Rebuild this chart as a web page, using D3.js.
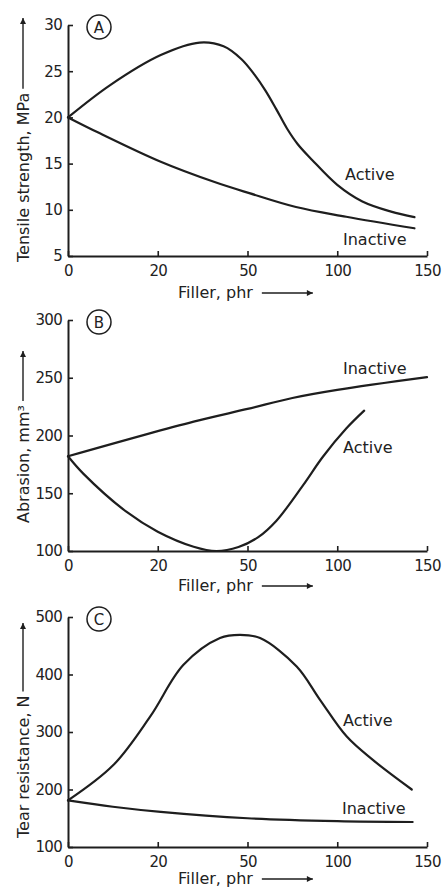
<!DOCTYPE html>
<html>
<head>
<meta charset="utf-8">
<script src="https://cdn.jsdelivr.net/npm/d3@7"></script>
<style>
  html, body { margin: 0; padding: 0; background: #fff; }
  svg { display: block; }
  text { font-family: "DejaVu Sans", sans-serif; fill: #222; }
</style>
</head>
<body>
<svg id="chart" width="445" height="889"></svg>
<script>
// ---------- data ----------
const xTicks = [0, 20, 50, 100, 150];
const xLabel = "Filler, phr";

const yTicksA = [5, 10, 15, 20, 25, 30];
const yLabelA = "Tensile strength, MPa";
const activeA = [[0,20],[9.4,23.5],[21,26.75],[34,28.1],[42,27.7],[48,26.3],[54,24.6],[60,22.9],[66,20.9],[72,18.8],[78,17.1],[86,15.4],[100,12.7],[114,10.9],[130,9.8],[143,9.2]];
const inactiveA = [[0,20],[7,18.3],[21,15.2],[39,13.0],[51,11.8],[77,10.3],[105,9.25],[143,8.0]];

const yTicksB = [100, 150, 200, 250, 300];
const yLabelB = "Abrasion, mm\u00B3";
const activeB = [[0,182],[3.4,167],[13,134],[20,116.7],[32,103.7],[39.6,100],[47,103.5],[56,112],[66,126],[81,157],[92,181.6],[105,206],[115,221.5]];
const inactiveB = [[0,182],[32,212],[50,223],[75,232.5],[100,239.5],[150,250.5]];

const yTicksC = [100, 200, 300, 400, 500];
const yLabelC = "Tear resistance, N";
const activeC = [[0,181],[10.1,242.5],[18.3,326.7],[28.6,416.8],[40.8,463.4],[47.5,469],[57,463.4],[77.4,414],[90.4,356],[105.3,292],[120,251],[141.5,200]];
const inactiveC = [[0,181],[10,170],[21,161],[50,150],[100,145],[142,143.5]];

const panels = [
  {letter:"A", ticks:yTicksA, label:yLabelA, active:activeA, inactive:inactiveA,
   top:25, bottom:256, titleBottom:262, arrowTip:18, xTitleOff:42,
   activePos:[345,180], inactivePos:[343,245]},
  {letter:"B", ticks:yTicksB, label:yLabelB, active:activeB, inactive:inactiveB,
   top:320, bottom:551, titleBottom:523, arrowTip:351, xTitleOff:40,
   activePos:[343,453], inactivePos:[343,374]},
  {letter:"C", ticks:yTicksC, label:yLabelC, active:activeC, inactive:inactiveC,
   top:617, bottom:847, titleBottom:838, arrowTip:623, xTitleOff:37,
   activePos:[343,726], inactivePos:[342,814]}
];

// ---------- drawing ----------
const svg = d3.select("#chart");
const ink = "#1e1e1e";
const x0 = 68, x1 = 427;

svg.append("defs").append("marker")
  .attr("id","arrow").attr("viewBox","0 0 10 10").attr("refX",10).attr("refY",5)
  .attr("markerWidth",9).attr("markerHeight",6).attr("markerUnits","userSpaceOnUse")
  .attr("orient","auto")
  .append("path").attr("d","M0,0 L10,5 L0,10 Z").attr("fill",ink);

const x = d3.scaleLinear()
  .domain(xTicks)
  .range(xTicks.map((d,i) => x0 + (x1 - x0) * i / (xTicks.length - 1)));

panels.forEach(p => {
  const y = d3.scaleLinear()
    .domain([p.ticks[0], p.ticks[p.ticks.length-1]])
    .range([p.bottom, p.top]);

  const g = svg.append("g");

  const xa = g.append("g").attr("transform", `translate(0,${p.bottom})`)
    .call(d3.axisBottom(x).tickValues(xTicks).tickSizeInner(-5).tickSizeOuter(0).tickPadding(8));
  const ya = g.append("g").attr("transform", `translate(${x0},0)`)
    .call(d3.axisLeft(y).tickValues(p.ticks).tickSizeInner(-5).tickSizeOuter(0).tickPadding(6));

  [xa, ya].forEach(a => {
    a.select(".domain").attr("stroke", ink).attr("stroke-width", 2);
    a.selectAll(".tick line").attr("stroke", ink).attr("stroke-width", 1.6);
    a.selectAll(".tick text").attr("fill", ink)
      .style("font-family", '"DejaVu Sans", sans-serif')
      .style("font-size", "15px").style("letter-spacing", "-0.7px");
  });
  xa.selectAll(".tick text").attr("dy", "0.78em");

  const line = d3.line().x(d => x(d[0])).y(d => y(d[1])).curve(d3.curveCatmullRom.alpha(0.5));
  [p.active, p.inactive].forEach(s => {
    g.append("path").datum(s).attr("d", line)
      .attr("fill","none").attr("stroke", ink).attr("stroke-width", 2.2)
      .attr("stroke-linecap","round").attr("stroke-linejoin","round");
  });

  g.append("text").attr("x", p.activePos[0]).attr("y", p.activePos[1])
    .style("font-size","16px").text("Active");
  g.append("text").attr("x", p.inactivePos[0]).attr("y", p.inactivePos[1])
    .style("font-size","16px").text("Inactive");

  const cy = p.top + 2;
  g.append("circle").attr("cx", 99).attr("cy", cy).attr("r", 12)
    .attr("fill","none").attr("stroke", ink).attr("stroke-width", 1.5);
  g.append("text").attr("x", 99).attr("y", cy + 5.5).attr("text-anchor","middle")
    .style("font-size","15px").text(p.letter);

  const xt = g.append("text").attr("x", 178).attr("y", p.bottom + p.xTitleOff)
    .style("font-size","16px").text(xLabel);
  const xtEnd = 178 + xt.node().getComputedTextLength();
  g.append("line").attr("x1", xtEnd + 9).attr("x2", xtEnd + 60)
    .attr("y1", p.bottom + p.xTitleOff - 5).attr("y2", p.bottom + p.xTitleOff - 5)
    .attr("stroke", ink).attr("stroke-width", 1.4).attr("marker-end","url(#arrow)");

  const yt = g.append("text")
    .attr("transform", `translate(29,${p.titleBottom}) rotate(-90)`)
    .style("font-size","16px").text(p.label);
  const ytEnd = p.titleBottom - yt.node().getComputedTextLength();
  g.append("line").attr("x1", 23).attr("x2", 23)
    .attr("y1", ytEnd - 4).attr("y2", p.arrowTip)
    .attr("stroke", ink).attr("stroke-width", 1.4).attr("marker-end","url(#arrow)");
});
</script>
</body>
</html>
